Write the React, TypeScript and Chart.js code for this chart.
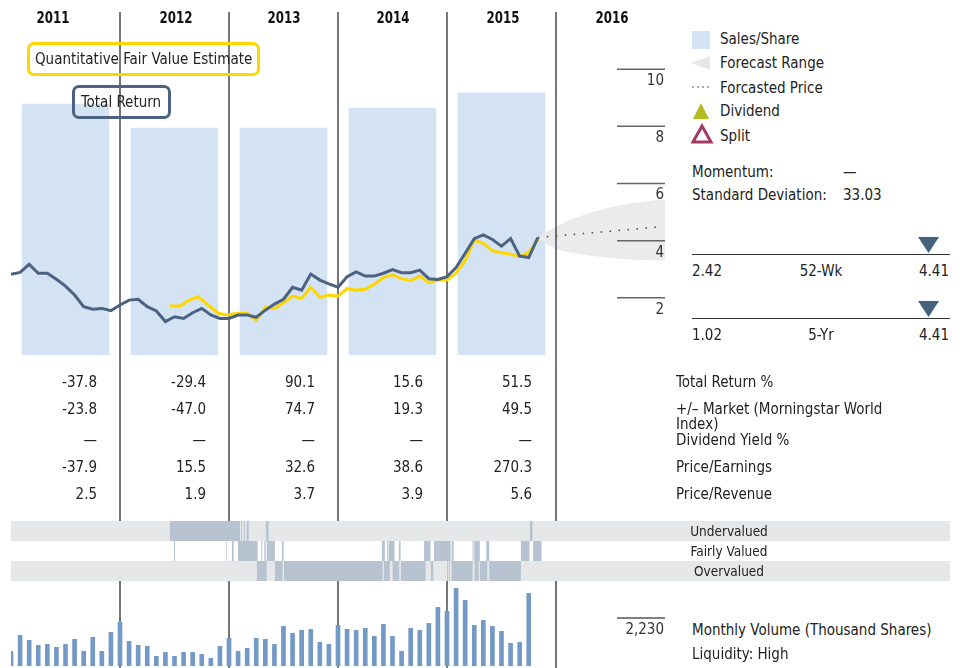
import React, { useEffect, useRef } from 'react';
import { Chart, registerables } from 'chart.js';

Chart.register(...registerables);

const FONT = '"Liberation Sans Narrow", "Arial Narrow", "DejaVu Sans Condensed", Roboto, sans-serif';

// ---------------- data ----------------
const years = ['2011', '2012', '2013', '2014', '2015', '2016'];
const yearBoundaryMonths = [12, 24, 36, 48, 60];

const salesMonths = [6, 18, 30, 42, 54];
const salesPerShare = [8.78, 7.94, 7.94, 8.64, 9.17];

// monthly, Jan 2011 = month 0
const totalReturn = [
  2.82, 2.89, 3.17, 2.86, 2.86, 2.65, 2.41, 2.1, 1.69, 1.6, 1.63, 1.55,
  1.75, 1.92, 1.95, 1.69, 1.54, 1.17, 1.34, 1.28, 1.48, 1.63, 1.4, 1.28,
  1.28, 1.4, 1.4, 1.32, 1.57, 1.78, 1.95, 2.37, 2.27, 2.83, 2.62, 2.49,
  2.37, 2.74, 2.91, 2.76, 2.76, 2.86, 2.99, 2.88, 2.88, 2.97, 2.67, 2.64,
  2.74, 3.06, 3.56, 4.07, 4.2, 4.04, 3.81, 4.07, 3.46, 3.41, 4.11,
];

const fairValueMonths = [
  17.5, 18.6, 19.5, 20.6, 21.7, 22.8, 23.8, 24.9,
  26, 27, 28, 29, 30, 31, 32, 33, 34, 35,
  36, 37, 38, 39, 40, 41, 42, 43, 44, 45,
  46, 47, 48, 49, 50, 51, 52, 53, 54, 55,
  56, 57, 58,
];
const fairValue = [
  1.71, 1.71, 1.9, 2.04, 1.75, 1.46, 1.4, 1.46,
  1.46, 1.22, 1.67, 1.63, 1.83, 2.06, 1.98, 2.37, 2.02, 2.1,
  2.06, 2.32, 2.27, 2.3, 2.48, 2.71, 2.81, 2.67, 2.6, 2.76,
  2.53, 2.62, 2.62, 2.86, 3.3, 4.02, 3.91, 3.65, 3.58, 3.53,
  3.44, 3.58, 4.04,
];

const forecastMonths = [58, 59, 60, 62, 64, 67, 72];
const forecastHigh = [4.11, 4.32, 4.5, 4.78, 5.0, 5.24, 5.45];
const forecastLow = [4.11, 3.88, 3.72, 3.56, 3.46, 3.37, 3.3];
const forecastPriceMonths = [58, 71];
const forecastPrice = [4.11, 4.47];

const priceTicks = [2, 4, 6, 8, 10];

const volume = [
  681, 1425, 1192, 960, 1007, 867, 1007, 1239, 681, 1332, 681, 1564,
  2029, 1146, 960, 914, 449, 635, 449, 635, 635, 542, 356, 914,
  1285, 681, 821, 1285, 1239, 1007, 1843, 1518, 1657, 1703, 1100, 1007,
  1889, 1703, 1657, 1750, 1378, 1936, 1378, 681, 1750, 1657, 1982, 2726,
  2540, 3609, 3051, 1889, 2122, 1843, 1611, 1053, 1100, 3376,
];
const volumeTick = 2230;

const valuationLevels = ['Undervalued', 'Fairly Valued', 'Overvalued'];
const undervaluedRanges = [
  [17.5, 25.21], [25.35, 25.46], [25.65, 25.76], [25.95, 26.17], [28.07, 28.37], [57.14, 57.43],
];
const fairlyValuedRanges = [
  [17.94, 18.06], [23.7, 23.78], [24.33, 24.52], [24.99, 27.16], [27.56, 27.67], [27.89, 28.04],
  [28.15, 29.06], [29.83, 30.02], [40.84, 41.17], [41.43, 41.54], [41.58, 42.24], [42.71, 42.9],
  [45.47, 46.21], [46.57, 48.41], [48.52, 48.74], [50.83, 50.94], [51.01, 51.63], [52.33, 52.66],
  [56.15, 57.1], [57.5, 58.42],
];
const overvaluedRanges = [
  [27.08, 28.15], [29.06, 29.91], [30.06, 40.92], [41.06, 41.72], [42.02, 42.75], [42.94, 45.65],
  [46.24, 46.49], [48.03, 48.14], [48.25, 48.33], [48.52, 50.83], [51.05, 51.49], [51.63, 52.44],
  [52.66, 56.15],
];
const valuationBandEnd = 103.4;

const tableLabels = ['Total Return %', '+/– Market (Morningstar World', 'Index)', 'Dividend Yield %', 'Price/Earnings', 'Price/Revenue'];
const totalReturnPct = ['-37.8', '-29.4', '90.1', '15.6', '51.5'];
const vsMarket = ['-23.8', '-47.0', '74.7', '19.3', '49.5'];
const dividendYield = ['—', '—', '—', '—', '—'];
const priceEarnings = ['-37.9', '15.5', '32.6', '38.6', '270.3'];
const priceRevenue = ['2.5', '1.9', '3.7', '3.9', '5.6'];

const legendLabels = ['Sales/Share', 'Forecast Range', 'Forcasted Price', 'Dividend', 'Split'];
const momentum = '—';
const stdDev = '33.03';
const range52Low = '2.42';
const range52High = '4.41';
const range5Low = '1.02';
const range5High = '4.41';

// ---------------- layout constants ----------------
const W = 965;
const H = 668;
const MAIN_W = 680;
const FORECAST_HIGH_INDEX = 2;
const TXT = 15;

type TProps = {
  x: number; y: number; children: React.ReactNode; align?: 'left' | 'right' | 'center';
  size?: number; bold?: boolean; color?: string; lh?: number; sx?: number;
};
function T({ x, y, children, align = 'left', size = TXT, bold = false, color = '#222', lh = 18, sx = 1 }: TProps) {
  const tx = align === 'right' ? 'translateX(-100%)' : align === 'center' ? 'translateX(-50%)' : '';
  const origin = align === 'right' ? 'right center' : align === 'center' ? 'center center' : 'left center';
  return (
    <div
      style={{
        position: 'absolute', left: x, top: y - lh / 2, lineHeight: `${lh}px`, fontSize: size,
        fontWeight: bold ? 700 : 400, color, whiteSpace: 'nowrap', fontFamily: FONT,
        transform: `${tx} scaleX(${sx})`.trim(), transformOrigin: origin,
      }}
    >
      {children}
    </div>
  );
}

export default function App() {
  const mainRef = useRef<HTMLCanvasElement | null>(null);
  const volRef = useRef<HTMLCanvasElement | null>(null);
  const valRef = useRef<HTMLCanvasElement | null>(null);

  useEffect(() => {
    const dividerPlugin = {
      id: 'dividers',
      afterDatasetDraw(chart: any, args: any) {
        if (args.index !== FORECAST_HIGH_INDEX) return;
        const { ctx, chartArea } = chart;
        const x = chart.scales.x;
        ctx.save();
        ctx.strokeStyle = '#555';
        ctx.lineWidth = 1.6;
        for (const m of yearBoundaryMonths) {
          const px = x.getPixelForValue(m);
          ctx.beginPath();
          ctx.moveTo(px, chartArea.top);
          ctx.lineTo(px, chart.height);
          ctx.stroke();
        }
        ctx.restore();
      },
    };
    const priceTickPlugin = {
      id: 'priceTicks',
      afterDraw(chart: any) {
        const { ctx, chartArea } = chart;
        const y = chart.scales.y;
        ctx.save();
        ctx.strokeStyle = '#666';
        ctx.lineWidth = 1.5;
        ctx.fillStyle = '#333';
        ctx.font = `15px ${FONT}`;
        ctx.textAlign = 'right';
        ctx.textBaseline = 'middle';
        for (const v of priceTicks) {
          const py = y.getPixelForValue(v);
          ctx.beginPath();
          ctx.moveTo(chartArea.right - 48, py);
          ctx.lineTo(chartArea.right, py);
          ctx.stroke();
          ctx.fillText(String(v), chartArea.right - 1, py + 12);
        }
        ctx.restore();
      },
    };
    const main = new Chart(mainRef.current as HTMLCanvasElement, {
      type: 'bar',
      data: {
        datasets: [
          {
            type: 'bar', label: 'Sales/Share',
            data: salesMonths.map((m, i) => ({ x: m, y: salesPerShare[i] })),
            backgroundColor: '#d3e3f3', barThickness: 87, order: 6,
          } as any,
          {
            type: 'line', label: 'Forecast Low',
            data: forecastMonths.map((m, i) => ({ x: m, y: forecastLow[i] })),
            borderColor: 'rgba(0,0,0,0)', borderWidth: 1, pointRadius: 0, cubicInterpolationMode: 'monotone', fill: false, order: 5,
          },
          {
            type: 'line', label: 'Forecast Range',
            data: forecastMonths.map((m, i) => ({ x: m, y: forecastHigh[i] })),
            borderColor: 'rgba(0,0,0,0)', borderWidth: 1, pointRadius: 0, cubicInterpolationMode: 'monotone',
            fill: 1, backgroundColor: '#ebebeb', order: 4,
          },
          {
            type: 'line', label: 'Forcasted Price',
            data: forecastPriceMonths.map((m, i) => ({ x: m, y: forecastPrice[i] })),
            borderColor: '#444', borderWidth: 1.5, borderDash: [1.5, 7.5], pointRadius: 0, fill: false, order: 3,
          },
          {
            type: 'line', label: 'Quantitative Fair Value Estimate',
            data: fairValueMonths.map((m, i) => ({ x: m, y: fairValue[i] })),
            borderColor: '#ffd700', borderWidth: 3, pointRadius: 0, fill: false, order: 2,
          },
          {
            type: 'line', label: 'Total Return',
            data: totalReturn.map((v, i) => ({ x: i, y: v })),
            borderColor: '#4b6282', borderWidth: 3, pointRadius: 0, fill: false, order: 1,
          },
        ],
      },
      options: {
        animation: false, responsive: false, maintainAspectRatio: false,
        layout: { padding: { left: 11, right: 15, top: 12, bottom: 313 } },
        plugins: { legend: { display: false }, tooltip: { enabled: false } },
        scales: {
          x: { type: 'linear', min: 0, max: 72, display: false, offset: false },
          y: { type: 'linear', min: 0, max: 12, display: false },
        },
      } as any,
      plugins: [dividerPlugin, priceTickPlugin],
    });

    const volTickPlugin = {
      id: 'volTick',
      afterDraw(chart: any) {
        const { ctx, chartArea } = chart;
        const y = chart.scales.y;
        const py = y.getPixelForValue(volumeTick);
        ctx.save();
        ctx.strokeStyle = '#555';
        ctx.lineWidth = 1.5;
        ctx.beginPath();
        ctx.moveTo(chartArea.right - 48, py);
        ctx.lineTo(chartArea.right, py);
        ctx.stroke();
        ctx.fillStyle = '#333';
        ctx.font = `15px ${FONT}`;
        ctx.textAlign = 'right';
        ctx.textBaseline = 'middle';
        ctx.fillText(volumeTick.toLocaleString('en-US'), chartArea.right - 1, py + 12);
        ctx.restore();
      },
    };
    const vol = new Chart(volRef.current as HTMLCanvasElement, {
      type: 'bar',
      data: {
        datasets: [
          {
            label: 'Monthly Volume',
            data: volume.map((v, i) => ({ x: i, y: v })),
            backgroundColor: '#7399c6', barThickness: 4,
          } as any,
        ],
      },
      options: {
        animation: false, responsive: false, maintainAspectRatio: false,
        layout: { padding: { left: 11, right: 15, top: 2, bottom: 2 } },
        plugins: { legend: { display: false }, tooltip: { enabled: false } },
        scales: {
          x: { type: 'linear', min: 0, max: 72, display: false, offset: false },
          y: { type: 'linear', min: 0, max: 4000, display: false },
        },
      } as any,
      plugins: [volTickPlugin],
    });

    const segs: any[] = [];
    undervaluedRanges.forEach((r) => segs.push({ x: r, y: valuationLevels[0] }));
    fairlyValuedRanges.forEach((r) => segs.push({ x: r, y: valuationLevels[1] }));
    overvaluedRanges.forEach((r) => segs.push({ x: r, y: valuationLevels[2] }));
    const bands = [
      { x: [0, valuationBandEnd], y: valuationLevels[0] },
      { x: [0, valuationBandEnd], y: valuationLevels[2] },
    ];
    const val = new Chart(valRef.current as HTMLCanvasElement, {
      type: 'bar',
      data: {
        labels: valuationLevels,
        datasets: [
          {
            label: 'Valuation', data: segs, backgroundColor: '#b7c3d0', grouped: false,
            categoryPercentage: 1, barPercentage: 1, order: 1, inflateAmount: 0,
          } as any,
          {
            label: 'Band', data: bands, backgroundColor: '#e6e7e9', grouped: false,
            categoryPercentage: 1, barPercentage: 1, order: 2, inflateAmount: 0,
          } as any,
        ],
      },
      options: {
        indexAxis: 'y', animation: false, responsive: false, maintainAspectRatio: false,
        layout: { padding: { left: 11, right: 15, top: 0, bottom: 0 } },
        plugins: { legend: { display: false }, tooltip: { enabled: false } },
        scales: {
          x: { type: 'linear', min: 0, max: valuationBandEnd, display: false },
          y: { type: 'category', display: false },
        },
      } as any,
    });

    return () => {
      main.destroy();
      vol.destroy();
      val.destroy();
    };
  }, []);

  const yearCenters = [53, 176, 284, 393, 503, 612];
  const colRights = [97, 206, 315, 423, 532];
  const rowYs = [382, 409, 440, 467, 494];
  const rows = [totalReturnPct, vsMarket, dividendYield, priceEarnings, priceRevenue];

  return (
    <div style={{ position: 'absolute', left: 0, top: 0, width: W, height: H, overflow: 'hidden', background: '#fff', fontFamily: FONT }}>
      <canvas ref={mainRef} width={MAIN_W} height={H} style={{ position: 'absolute', left: 0, top: 0 }} />
      <canvas ref={volRef} width={MAIN_W} height={90} style={{ position: 'absolute', left: 0, top: 578 }} />
      <canvas ref={valRef} width={W} height={60} style={{ position: 'absolute', left: 0, top: 521, background: '#fff' }} />

      {years.map((yr, i) => (
        <T key={yr} x={yearCenters[i]} y={18} align="center" bold size={16} sx={0.82} color="#111">{yr}</T>
      ))}

      <div style={{ position: 'absolute', left: 27, top: 42, width: 233, height: 34, boxSizing: 'border-box', border: '3px solid #fdd800', borderRadius: 7 }} />
      <T x={35} y={59}>Quantitative Fair Value Estimate</T>
      <div style={{ position: 'absolute', left: 72, top: 85, width: 99, height: 34, boxSizing: 'border-box', border: '3px solid #4b6282', borderRadius: 7 }} />
      <T x={121} y={102} align="center">Total Return</T>

      {rows.map((vals, r) => vals.map((v, c) => (
        <T key={`${r}-${c}`} x={colRights[c]} y={rowYs[r]} align="right">{v}</T>
      )))}
      <T x={676} y={382}>{tableLabels[0]}</T>
      <T x={676} y={409}>{tableLabels[1]}</T>
      <T x={676} y={424}>{tableLabels[2]}</T>
      <T x={676} y={440}>{tableLabels[3]}</T>
      <T x={676} y={467}>{tableLabels[4]}</T>
      <T x={676} y={494}>{tableLabels[5]}</T>

      {/* legend */}
      <div style={{ position: 'absolute', left: 692, top: 31, width: 18, height: 18, background: '#d3e3f3' }} />
      <svg style={{ position: 'absolute', left: 691, top: 56 }} width={20} height={14}>
        <polygon points="0,7 19,0 19,14" fill="#e6e6e6" />
      </svg>
      <svg style={{ position: 'absolute', left: 692, top: 84 }} width={20} height={6}>
        {[1, 6, 11, 16].map((cx) => <circle key={cx} cx={cx} cy={3} r={0.8} fill="#444" />)}
      </svg>
      <svg style={{ position: 'absolute', left: 692, top: 102 }} width={20} height={18}>
        <polygon points="9,1 17,17 1,17" fill="#b3bb1f" />
      </svg>
      <svg style={{ position: 'absolute', left: 691, top: 123 }} width={24} height={22}>
        <polygon points="11,3 20,19 2,19" fill="none" stroke="#a33a63" strokeWidth={3} />
      </svg>
      {legendLabels.map((l, i) => (
        <T key={l} x={720} y={[39, 63, 88, 111, 136][i]}>{l}</T>
      ))}

      <T x={692} y={172}>Momentum:</T>
      <T x={843} y={172}>{momentum}</T>
      <T x={692} y={195}>Standard Deviation:</T>
      <T x={843} y={195}>{stdDev}</T>

      <svg style={{ position: 'absolute', left: 918, top: 237 }} width={22} height={17}>
        <polygon points="0,0 21,0 10.5,16" fill="#45627f" />
      </svg>
      <div style={{ position: 'absolute', left: 692, top: 254, width: 258, height: 0, borderTop: '1.5px solid #333' }} />
      <T x={692} y={271}>{range52Low}</T>
      <T x={821} y={271} align="center">52-Wk</T>
      <T x={949} y={271} align="right">{range52High}</T>

      <svg style={{ position: 'absolute', left: 918, top: 301 }} width={22} height={17}>
        <polygon points="0,0 21,0 10.5,16" fill="#45627f" />
      </svg>
      <div style={{ position: 'absolute', left: 692, top: 318, width: 258, height: 0, borderTop: '1.5px solid #333' }} />
      <T x={692} y={335}>{range5Low}</T>
      <T x={821} y={335} align="center">5-Yr</T>
      <T x={949} y={335} align="right">{range5High}</T>

      {valuationLevels.map((l, i) => (
        <T key={l} x={729} y={531 + i * 20} align="center" size={13.5}>{l}</T>
      ))}

      <T x={692} y={630}>Monthly Volume (Thousand Shares)</T>
      <T x={692} y={654}>Liquidity: High</T>
    </div>
  );
}
